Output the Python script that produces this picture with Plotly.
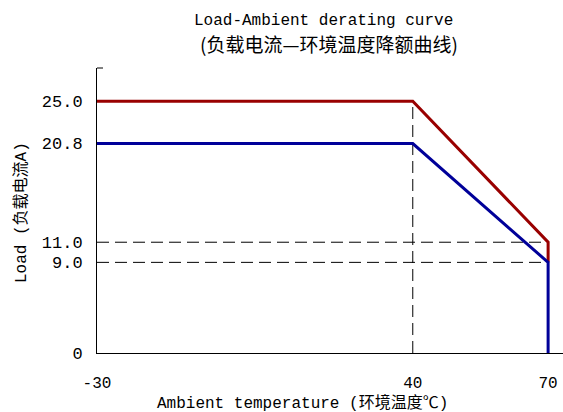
import plotly.graph_objects as go

# Data
temp_red = [-30, 40, 70, 70]
load_red = [25.0, 25.0, 11.0, 9.0]
temp_blue = [-30, 40, 70, 70]
load_blue = [20.8, 20.8, 9.0, 0.0]
x_ticks = [-30, 40, 70]
x_tick_labels = ["-30", "40", "70"]
y_ticks = [0, 9.0, 11.0, 20.8, 25.0]
y_tick_labels = ["0", "9.0", "11.0", "20.8", "25.0"]
dash_h_levels = [11.0, 9.0]
dash_v_temp = 40

MONO = "Liberation Mono, Noto Sans CJK SC, monospace"
CJK = "Noto Sans CJK SC, Liberation Mono, sans-serif"

L, T, W, H = 97, 68, 466, 285

fig = go.Figure()

# dashed reference lines
for lv in dash_h_levels:
    fig.add_trace(go.Scatter(x=[-30, 70], y=[lv, lv], mode="lines",
                             line=dict(color="black", width=1, dash="12px,6px"),
                             hoverinfo="skip", showlegend=False))
fig.add_trace(go.Scatter(x=[dash_v_temp, dash_v_temp], y=[0, 25.0], mode="lines",
                         line=dict(color="black", width=1, dash="12px,6px"),
                         hoverinfo="skip", showlegend=False))

fig.add_trace(go.Scatter(x=temp_red, y=load_red, mode="lines",
                         line=dict(color="#990000", width=3), showlegend=False))
fig.add_trace(go.Scatter(x=temp_blue, y=load_blue, mode="lines",
                         line=dict(color="#000099", width=3), showlegend=False))

def px_x(px):
    return (px - L) / W

def px_y(py):
    return (T + H - py) / H

fig.update_layout(
    width=563, height=412,
    margin=dict(l=L, r=563 - L - W, t=T, b=412 - T - H),
    paper_bgcolor="white", plot_bgcolor="white",
    font=dict(family=MONO, size=14, color="black"),
    showlegend=False,
    xaxis=dict(range=[-30, 73.3], tickvals=x_ticks, ticktext=x_tick_labels,
               showgrid=False, zeroline=False, showline=True, linecolor="black",
               linewidth=1, ticks="", ticklabelstandoff=15,
               tickfont=dict(family=MONO, size=16)),
    yaxis=dict(range=[0, 28.3], tickvals=y_ticks, ticktext=y_tick_labels,
               showgrid=False, zeroline=False, showline=True, linecolor="black",
               linewidth=1, ticks="", ticklabelstandoff=10,
               tickfont=dict(family=MONO, size=17)),
    annotations=[
        dict(text="Load-Ambient derating curve", xref="paper", yref="paper",
             x=px_x(323), y=px_y(21), showarrow=False,
             xanchor="center", yanchor="middle", font=dict(family=MONO, size=16)),
        dict(text="(负载电流—环境温度降额曲线)", xref="paper", yref="paper",
             x=px_x(329), y=px_y(44), showarrow=False,
             xanchor="center", yanchor="middle", font=dict(family=CJK, size=19)),
        dict(text="Ambient temperature (环境温度℃)", xref="paper", yref="paper",
             x=px_x(302), y=px_y(403), showarrow=False,
             xanchor="center", yanchor="middle", font=dict(family=MONO, size=16)),
        dict(text="Load (负载电流A)", xref="paper", yref="paper",
             x=px_x(21), y=px_y(213), showarrow=False, textangle=-90,
             xanchor="center", yanchor="middle", font=dict(family=MONO, size=16)),
    ],
    shapes=[dict(type="line", xref="paper", yref="paper", x0=0, x1=6 / W,
                 y0=1, y1=1, line=dict(color="black", width=1))],
)

fig.write_html("out.html", config={"displayModeBar": False},
               post_script="document.body.style.margin='0';")
